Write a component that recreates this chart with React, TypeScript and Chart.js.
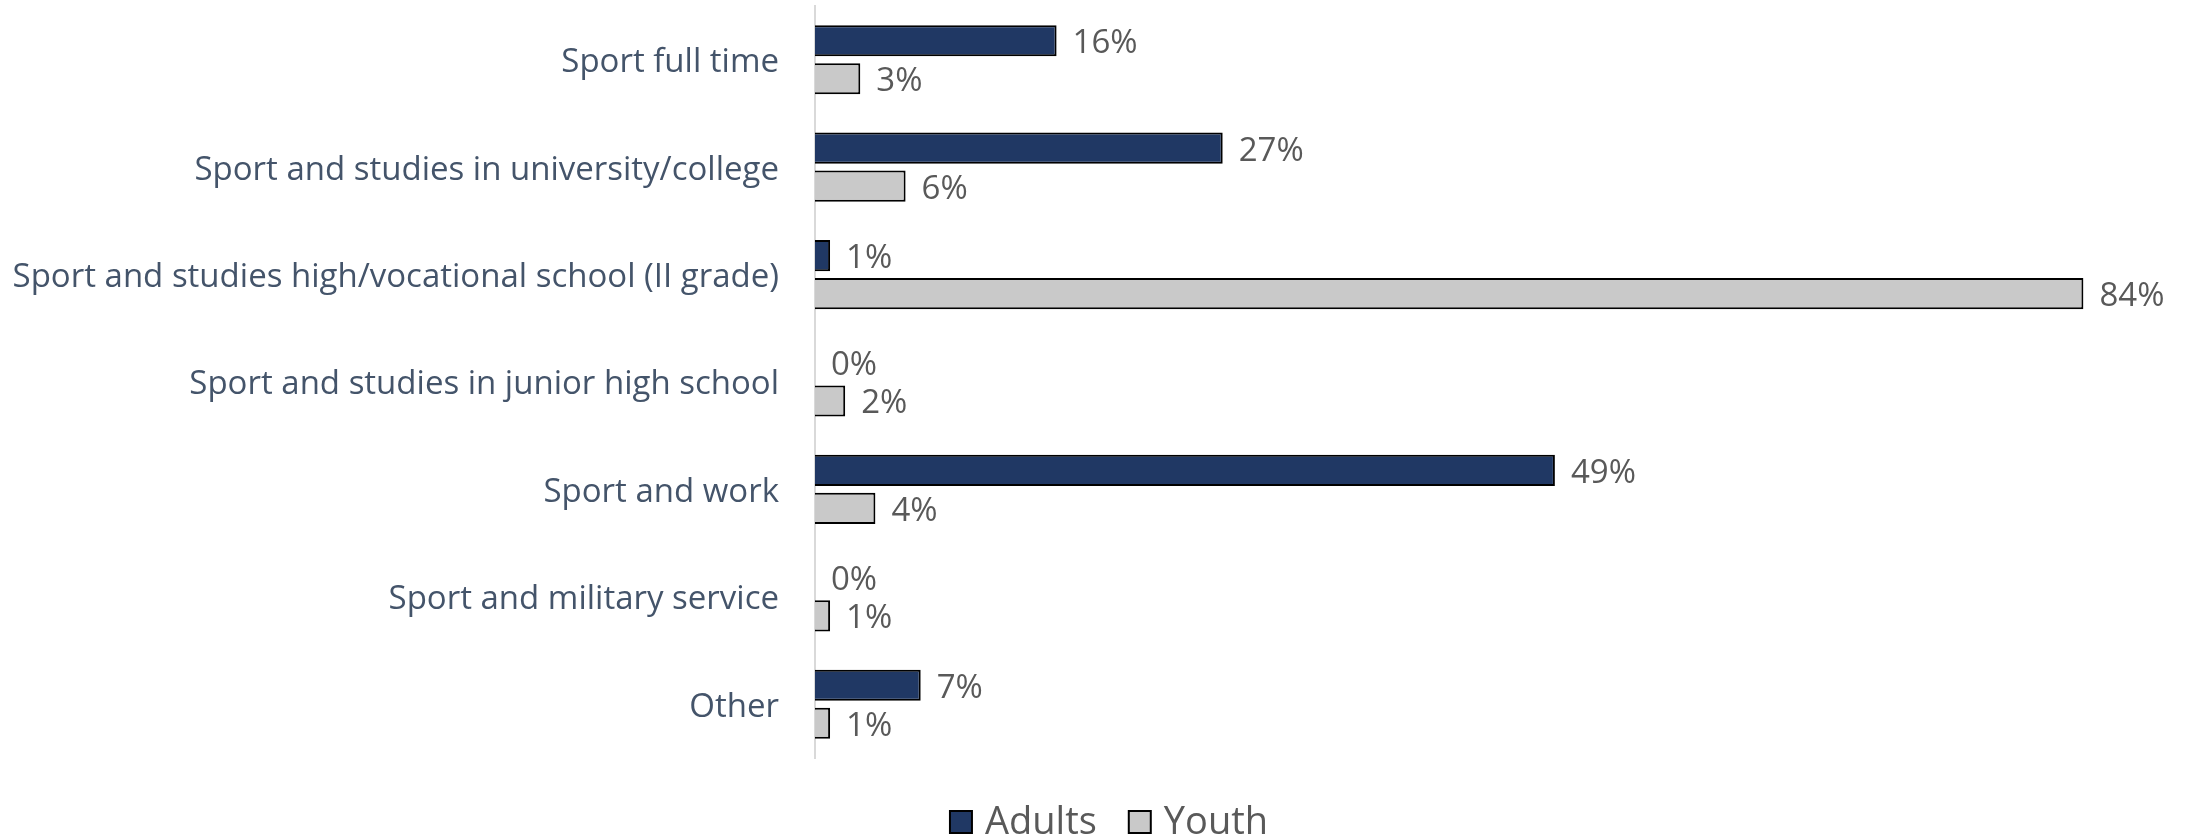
import React, { useEffect, useRef } from "react";
import { Chart, registerables } from "chart.js";

Chart.register(...registerables);

const categories = [
  "Sport full time",
  "Sport and studies in university/college",
  "Sport and studies high/vocational school (II grade)",
  "Sport and studies in junior high school",
  "Sport and work",
  "Sport and military service",
  "Other",
];
const seriesNames = ["Adults", "Youth"];
const adults = [16, 27, 1, 0, 49, 0, 7];
const youth = [3, 6, 84, 2, 4, 1, 1];

const FONT = "'Open Sans', 'DejaVu Sans', sans-serif";
const ADULT_COLOR = "#203864";
const YOUTH_COLOR = "#C9C9C9";

const dataLabelPlugin = {
  id: "dataLabels",
  afterDatasetsDraw(chart: any) {
    const ctx = chart.ctx;
    ctx.save();
    ctx.font = `33px ${FONT}`;
    ctx.fillStyle = "#595959";
    ctx.textAlign = "left";
    ctx.textBaseline = "middle";
    chart.data.datasets.forEach((ds: any, di: number) => {
      const meta = chart.getDatasetMeta(di);
      meta.data.forEach((el: any, i: number) => {
        ctx.fillText(`${ds.data[i]}%`, el.x + 16, el.y + 3);
      });
    });
    ctx.restore();
  },
};

const legendPlugin = {
  id: "customLegend",
  afterDraw(chart: any) {
    const ctx = chart.ctx;
    ctx.save();
    ctx.font = `38px ${FONT}`;
    ctx.textBaseline = "middle";
    ctx.textAlign = "left";
    const box = 22;
    const gap = 13;
    const spacing = 32;
    const items = chart.data.datasets.map((ds: any) => ({
      label: ds.label,
      color: ds.backgroundColor,
      w: ctx.measureText(ds.label).width,
    }));
    const total =
      items.reduce((s: number, it: any) => s + box + gap + it.w, 0) +
      spacing * (items.length - 1);
    let x = 1109 - total / 2;
    const cy = 822;
    items.forEach((it: any) => {
      ctx.fillStyle = it.color;
      ctx.fillRect(x, cy - box / 2, box, box);
      ctx.lineWidth = 2;
      ctx.strokeStyle = "#000000";
      ctx.strokeRect(x, cy - box / 2, box, box);
      ctx.fillStyle = "#595959";
      ctx.fillText(it.label, x + box + gap, cy + 1);
      x += box + gap + it.w + spacing;
    });
    ctx.restore();
  },
};

export default function App() {
  const ref = useRef<HTMLCanvasElement | null>(null);
  useEffect(() => {
    if (!ref.current) return;
    const chart = new Chart(ref.current, {
      type: "bar",
      data: {
        labels: categories,
        datasets: [
          {
            label: seriesNames[0],
            data: adults,
            backgroundColor: ADULT_COLOR,
            borderColor: "#000000",
            borderWidth: 2,
            categoryPercentage: 0.707,
            barPercentage: 0.82,
          },
          {
            label: seriesNames[1],
            data: youth,
            backgroundColor: YOUTH_COLOR,
            borderColor: "#000000",
            borderWidth: 2,
            categoryPercentage: 0.707,
            barPercentage: 0.82,
          },
        ],
      },
      options: {
        indexAxis: "y",
        animation: false,
        responsive: false,
        maintainAspectRatio: false,
        layout: { padding: { top: 6, bottom: 81, left: 0, right: 19 } },
        plugins: {
          legend: { display: false },
          tooltip: { enabled: false },
        },
        scales: {
          x: {
            type: "linear",
            min: 0,
            max: 90,
            display: false,
            grid: { display: false },
          },
          y: {
            grid: { display: false, drawTicks: false },
            border: { display: true, color: "#D9D9D9", width: 2 },
            ticks: {
              color: "#44546A",
              font: { family: FONT, size: 33 },
              padding: 36,
              labelOffset: 3,
            },
            afterFit(scale: any) {
              scale.width = 815;
              scale.paddingTop = 0;
              scale.paddingBottom = 0;
            },
          },
        },
      },
      plugins: [dataLabelPlugin, legendPlugin],
    });
    return () => chart.destroy();
  }, []);
  return (
    <div style={{ position: "fixed", left: 0, top: 0, width: 2193, height: 839, background: "#fff" }}>
      <canvas ref={ref} width={2193} height={839} style={{ width: 2193, height: 839, display: "block" }} />
    </div>
  );
}
